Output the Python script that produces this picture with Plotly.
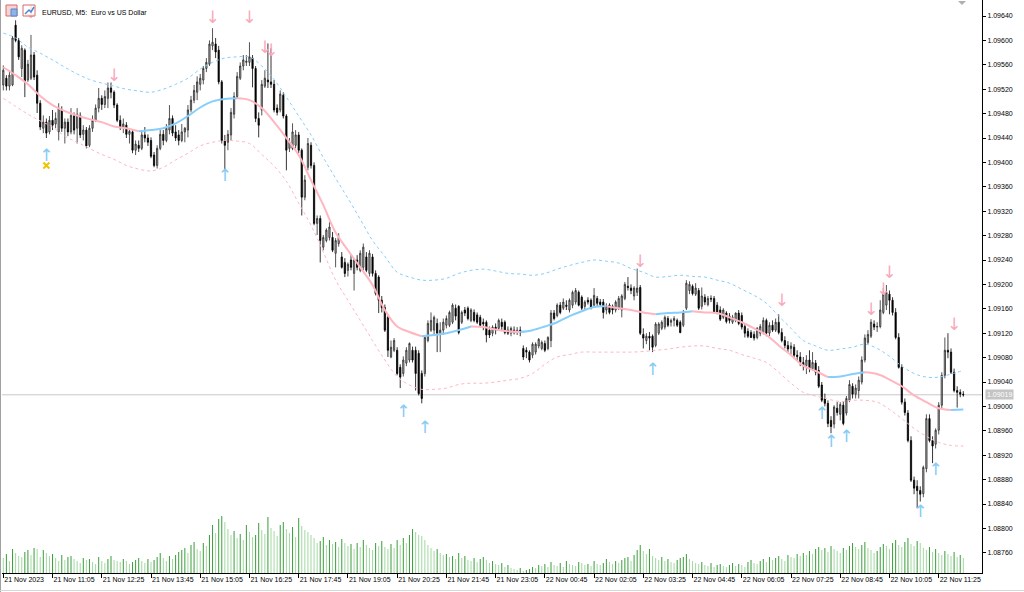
import plotly.graph_objects as go

# EURUSD M5 bars. Prices are stored in points: price = 1 + value / 100000
OPEN = [
    9527, 9538, 9525, 9527, 9625, 9600, 9554, 9584, 9535, 9538,
    9576, 9543, 9497, 9456, 9466, 9450, 9469, 9463, 9450, 9486,
    9456, 9466, 9450, 9476, 9456, 9477, 9446, 9453, 9428, 9456,
    9469, 9489, 9505, 9495, 9505, 9522, 9515, 9494, 9469, 9458,
    9461, 9446, 9450, 9420, 9428, 9423, 9445, 9440, 9436, 9412,
    9395, 9423, 9446, 9436, 9453, 9472, 9450, 9445, 9436, 9450,
    9453, 9486, 9502, 9515, 9528, 9535, 9554, 9561, 9591, 9594,
    9584, 9532, 9436, 9433, 9445, 9479, 9508, 9538, 9558, 9564,
    9564, 9571, 9554, 9472, 9486, 9525, 9535, 9532, 9528, 9489,
    9486, 9510, 9476, 9423, 9423, 9428, 9445, 9420, 9343, 9392,
    9428, 9395, 9300, 9308, 9261, 9272, 9277, 9277, 9251, 9267,
    9245, 9236, 9223, 9240, 9218, 9240, 9223, 9228, 9245, 9218,
    9245, 9218, 9212, 9174, 9162, 9146, 9081, 9092, 9092, 9064,
    9054, 9071, 9076, 9092, 9092, 9087, 9054, 9054, 9108, 9125,
    9125, 9136, 9120, 9125, 9133, 9133, 9138, 9161, 9164, 9138,
    9158, 9161, 9141, 9154, 9150, 9146, 9138, 9138, 9125, 9120,
    9130, 9128, 9138, 9138, 9125, 9120, 9125, 9121, 9125, 9095,
    9092, 9089, 9084, 9089, 9099, 9095, 9103, 9095, 9108, 9153,
    9149, 9166, 9161, 9166, 9158, 9166, 9171, 9187, 9179, 9164,
    9174, 9174, 9166, 9177, 9171, 9171, 9158, 9166, 9164, 9158,
    9161, 9158, 9177, 9197, 9194, 9181, 9187, 9195, 9118, 9108,
    9115, 9115, 9100, 9120, 9128, 9130, 9144, 9138, 9141, 9141,
    9138, 9133, 9161, 9190, 9197, 9184, 9190, 9164, 9179, 9167,
    9177, 9177, 9166, 9158, 9146, 9153, 9148, 9138, 9141, 9153,
    9149, 9131, 9123, 9121, 9118, 9113, 9120, 9121, 9141, 9120,
    9133, 9125, 9138, 9121, 9108, 9100, 9095, 9097, 9084, 9081,
    9072, 9067, 9076, 9062, 9071, 9059, 9035, 9013, 9005, 8977,
    8971, 8997, 8987, 9002, 8989, 9010, 9033, 9020, 9026, 9040,
    9076, 9105, 9115, 9135, 9130, 9131, 9154, 9166, 9184, 9174,
    9154, 9113, 9064, 9007, 8989, 8944, 8879, 8869, 8862, 8857,
    8898, 8980, 8944, 8938, 8961, 9002, 9051, 9092, 9089, 9056,
    9026, 9023, 9020,
]
HIGH = [
    9559, 9543, 9551, 9607, 9633, 9604, 9592, 9587, 9568, 9609,
    9581, 9551, 9502, 9477, 9472, 9476, 9486, 9482, 9497, 9492,
    9472, 9472, 9489, 9482, 9489, 9482, 9461, 9458, 9461, 9477,
    9495, 9522, 9510, 9518, 9531, 9531, 9518, 9497, 9477, 9472,
    9466, 9456, 9453, 9436, 9436, 9453, 9458, 9446, 9441, 9417,
    9428, 9453, 9453, 9463, 9494, 9477, 9461, 9453, 9463, 9458,
    9494, 9509, 9527, 9541, 9545, 9558, 9571, 9600, 9620, 9604,
    9591, 9535, 9445, 9453, 9489, 9515, 9548, 9564, 9576, 9576,
    9597, 9576, 9558, 9482, 9535, 9551, 9595, 9587, 9535, 9495,
    9518, 9515, 9479, 9440, 9464, 9453, 9450, 9423, 9379, 9440,
    9433, 9400, 9313, 9313, 9281, 9292, 9302, 9286, 9276, 9284,
    9253, 9243, 9236, 9248, 9243, 9248, 9256, 9267, 9253, 9256,
    9250, 9223, 9215, 9181, 9167, 9151, 9108, 9112, 9097, 9069,
    9082, 9097, 9105, 9098, 9098, 9092, 9059, 9117, 9141, 9154,
    9149, 9144, 9138, 9144, 9149, 9157, 9169, 9167, 9166, 9157,
    9163, 9164, 9161, 9159, 9154, 9150, 9144, 9141, 9131, 9133,
    9136, 9144, 9144, 9141, 9131, 9131, 9131, 9130, 9131, 9100,
    9097, 9092, 9105, 9105, 9112, 9108, 9108, 9115, 9158, 9158,
    9169, 9171, 9177, 9174, 9177, 9190, 9194, 9190, 9182, 9174,
    9179, 9177, 9194, 9181, 9176, 9176, 9169, 9169, 9167, 9174,
    9181, 9184, 9204, 9212, 9200, 9197, 9226, 9199, 9128, 9120,
    9122, 9118, 9138, 9138, 9141, 9149, 9148, 9144, 9148, 9144,
    9141, 9158, 9207, 9205, 9200, 9202, 9194, 9195, 9184, 9181,
    9182, 9181, 9171, 9164, 9161, 9156, 9153, 9150, 9154, 9158,
    9154, 9135, 9128, 9125, 9123, 9130, 9135, 9146, 9144, 9138,
    9141, 9144, 9151, 9128, 9115, 9107, 9105, 9102, 9092, 9089,
    9081, 9084, 9092, 9089, 9076, 9066, 9040, 9021, 9010, 8984,
    9002, 9007, 9007, 9008, 9017, 9043, 9038, 9036, 9049, 9082,
    9118, 9125, 9143, 9141, 9138, 9174, 9194, 9199, 9190, 9179,
    9161, 9120, 9069, 9013, 8994, 8951, 8885, 8879, 8869, 8903,
    8987, 8987, 8951, 8964, 9007, 9056, 9113, 9120, 9095, 9062,
    9033, 9028, 9025,
]
LOW = [
    9518, 9518, 9518, 9525, 9597, 9568, 9540, 9507, 9532, 9535,
    9535, 9481, 9453, 9448, 9440, 9446, 9453, 9456, 9436, 9450,
    9431, 9443, 9446, 9446, 9431, 9440, 9436, 9423, 9425, 9450,
    9466, 9482, 9486, 9489, 9489, 9505, 9489, 9466, 9453, 9448,
    9440, 9431, 9415, 9412, 9417, 9420, 9433, 9427, 9407, 9392,
    9390, 9420, 9428, 9433, 9446, 9443, 9435, 9428, 9433, 9433,
    9441, 9482, 9497, 9502, 9518, 9528, 9548, 9558, 9584, 9571,
    9528, 9431, 9387, 9420, 9436, 9472, 9505, 9535, 9551, 9558,
    9558, 9523, 9466, 9441, 9477, 9522, 9522, 9522, 9482, 9477,
    9482, 9472, 9387, 9417, 9420, 9423, 9415, 9313, 9338, 9387,
    9390, 9297, 9281, 9236, 9256, 9269, 9272, 9253, 9228, 9262,
    9226, 9212, 9213, 9223, 9190, 9223, 9220, 9223, 9220, 9213,
    9213, 9182, 9153, 9154, 9122, 9081, 9079, 9089, 9051, 9030,
    9049, 9066, 9072, 9072, 9026, 9018, 9005, 9049, 9105, 9122,
    9117, 9089, 9089, 9118, 9128, 9130, 9135, 9141, 9118, 9135,
    9148, 9141, 9138, 9138, 9135, 9130, 9125, 9105, 9112, 9115,
    9118, 9125, 9125, 9118, 9117, 9115, 9118, 9117, 9115, 9076,
    9079, 9072, 9079, 9085, 9095, 9092, 9089, 9092, 9097, 9141,
    9146, 9151, 9158, 9158, 9154, 9161, 9167, 9164, 9158, 9158,
    9167, 9159, 9162, 9164, 9164, 9144, 9151, 9151, 9151, 9154,
    9158, 9146, 9174, 9190, 9184, 9174, 9181, 9117, 9095, 9102,
    9092, 9089, 9097, 9117, 9125, 9126, 9130, 9131, 9131, 9130,
    9120, 9130, 9158, 9184, 9182, 9181, 9158, 9159, 9166, 9164,
    9171, 9153, 9151, 9140, 9143, 9136, 9136, 9135, 9138, 9133,
    9126, 9113, 9112, 9112, 9108, 9110, 9115, 9118, 9115, 9115,
    9122, 9122, 9118, 9105, 9095, 9089, 9085, 9079, 9076, 9066,
    9059, 9053, 9056, 9059, 9051, 9030, 9007, 9000, 8966, 8956,
    8964, 8985, 8977, 8969, 8985, 9007, 9013, 9013, 9013, 9036,
    9072, 9102, 9112, 9125, 9122, 9128, 9151, 9158, 9151, 9149,
    9110, 9062, 9003, 8985, 8941, 8876, 8856, 8833, 8844, 8851,
    8892, 8941, 8907, 8931, 8954, 8997, 9046, 9079, 9053, 9023,
    8998, 9015, 9016,
]
CLOSE = [
    9551, 9525, 9543, 9604, 9600, 9573, 9587, 9532, 9561, 9576,
    9540, 9497, 9458, 9466, 9448, 9469, 9461, 9472, 9489, 9456,
    9466, 9450, 9477, 9453, 9479, 9445, 9453, 9427, 9456, 9469,
    9489, 9505, 9495, 9508, 9522, 9515, 9494, 9469, 9458, 9463,
    9446, 9451, 9420, 9430, 9423, 9445, 9440, 9433, 9410, 9395,
    9423, 9446, 9436, 9456, 9472, 9448, 9440, 9436, 9450, 9456,
    9486, 9502, 9518, 9532, 9538, 9554, 9564, 9594, 9597, 9581,
    9532, 9436, 9428, 9446, 9482, 9508, 9541, 9558, 9568, 9566,
    9573, 9554, 9472, 9461, 9528, 9538, 9532, 9528, 9486, 9482,
    9512, 9476, 9420, 9433, 9450, 9445, 9420, 9343, 9371, 9431,
    9395, 9300, 9308, 9272, 9277, 9289, 9294, 9256, 9272, 9277,
    9228, 9218, 9233, 9228, 9240, 9228, 9251, 9261, 9223, 9251,
    9218, 9185, 9174, 9162, 9125, 9092, 9097, 9108, 9054, 9048,
    9076, 9092, 9103, 9076, 9054, 9021, 9013, 9113, 9136, 9141,
    9146, 9120, 9125, 9138, 9144, 9154, 9166, 9148, 9121, 9154,
    9153, 9144, 9158, 9141, 9138, 9133, 9135, 9117, 9117, 9130,
    9125, 9141, 9131, 9121, 9120, 9128, 9121, 9125, 9121, 9081,
    9089, 9076, 9102, 9102, 9110, 9105, 9092, 9113, 9153, 9144,
    9166, 9154, 9171, 9164, 9174, 9187, 9190, 9166, 9161, 9171,
    9171, 9162, 9182, 9169, 9167, 9154, 9164, 9154, 9158, 9171,
    9177, 9181, 9200, 9195, 9190, 9194, 9194, 9120, 9112, 9115,
    9112, 9097, 9135, 9135, 9138, 9146, 9133, 9141, 9144, 9133,
    9121, 9154, 9202, 9200, 9185, 9194, 9161, 9181, 9171, 9177,
    9176, 9154, 9153, 9143, 9158, 9139, 9141, 9146, 9153, 9136,
    9130, 9120, 9115, 9113, 9112, 9128, 9131, 9141, 9120, 9133,
    9125, 9138, 9121, 9108, 9100, 9094, 9099, 9084, 9082, 9072,
    9067, 9076, 9062, 9072, 9056, 9033, 9010, 9005, 8972, 8967,
    8999, 8990, 9003, 8972, 9013, 9036, 9020, 9030, 9043, 9076,
    9112, 9118, 9138, 9130, 9131, 9158, 9184, 9187, 9174, 9154,
    9113, 9064, 9007, 8990, 8944, 8879, 8866, 8862, 8856, 8900,
    8980, 8944, 8935, 8961, 9002, 9051, 9092, 9089, 9056, 9026,
    9023, 9020, 9019,
]
VOLUME = [
    150, 190, 120, 240, 200, 170, 160, 210, 230, 180, 250, 240, 160, 230, 200, 170,
    190, 150, 120, 180, 130, 160, 170, 140, 120, 100, 150, 130, 140, 110, 90, 160,
    120, 100, 140, 170, 130, 120, 110, 140, 120, 90, 110, 130, 150, 120, 100, 140,
    110, 130, 160, 200, 150, 120, 170, 140, 180, 210, 230, 250, 200, 280, 310, 240,
    220, 300, 270, 380, 480, 400, 540, 570, 510, 440, 380, 420, 350, 390, 330, 480,
    410, 360, 380, 500, 430, 390, 560, 450, 420, 370, 480, 510, 440, 400, 460, 360,
    550, 470, 430, 410, 380, 350, 300, 320, 360, 280, 330, 290, 310, 260, 340, 300,
    270, 290, 240, 300, 260, 330, 280, 250, 230, 300, 270, 320, 260, 240, 290, 250,
    330, 280, 350, 300, 380, 440, 410, 380, 370, 330, 280, 250, 220, 240, 200, 180,
    190, 160, 170, 140, 200, 150, 170, 130, 120, 150, 110, 140, 160, 130, 100, 120,
    90, 80, 100, 60, 80, 50, 40, 30, 50, 20, 30, 40, 60, 50, 80, 70,
    90, 60, 110, 80, 70, 100, 60, 120, 90, 80, 70, 110, 100, 80, 90, 70,
    120, 90, 80, 100, 140, 110, 90, 120, 100, 130, 150, 160, 120, 180, 230, 280,
    220, 190, 240, 170, 150, 130, 160, 120, 140, 110, 100, 130, 150, 160, 190, 140,
    120, 100, 90, 110, 80, 70, 100, 60, 80, 90, 70, 60, 80, 100, 70, 90,
    80, 60, 110, 130, 100, 90, 120, 140, 110, 160, 130, 150, 170, 140, 120, 180,
    160, 150, 190, 170, 200, 180, 220, 190, 240, 260, 230, 250, 210, 270, 240, 220,
    200, 250, 230, 270, 300, 260, 240, 280, 310, 250, 230, 200, 220, 260, 290, 270,
    240, 300, 330, 280, 260, 310, 350, 290, 270, 320, 300, 250, 230, 260, 210, 240,
    200, 180, 220, 190, 170, 210, 160, 180, 150,
]

# Envelope indicator read every 4th bar (bar index, then points)
BAND_BARS = list(range(0, 313, 4))
CENTER = [
    9556, 9543, 9528, 9509, 9494, 9484, 9477, 9471, 9466, 9459,
    9456, 9451, 9453, 9456, 9464, 9476, 9490, 9500, 9504, 9505,
    9502, 9489, 9466, 9440, 9412, 9371, 9330, 9285, 9256, 9228,
    9199, 9158, 9131, 9122, 9115, 9117, 9120, 9125, 9131, 9130,
    9126, 9123, 9122, 9125, 9131, 9138, 9148, 9156, 9163, 9164,
    9161, 9158, 9154, 9151, 9153, 9154, 9156, 9154, 9153, 9146,
    9138, 9128, 9117, 9100, 9084, 9067, 9058, 9048, 9049, 9053,
    9056, 9053, 9044, 9033, 9018, 9007, 8997, 8994, 8995,
]
UPPER = [
    9612, 9604, 9589, 9579, 9568, 9556, 9545, 9536, 9530, 9525,
    9520, 9517, 9515, 9520, 9528, 9538, 9553, 9564, 9571, 9573,
    9573, 9558, 9536, 9507, 9476, 9445, 9408, 9374, 9341, 9307,
    9272, 9246, 9220, 9212, 9207, 9207, 9210, 9218, 9223, 9225,
    9222, 9218, 9217, 9215, 9218, 9225, 9231, 9236, 9240, 9238,
    9235, 9226, 9220, 9212, 9213, 9215, 9213, 9212, 9207, 9202,
    9192, 9182, 9169, 9148, 9128, 9108, 9099, 9092, 9094, 9097,
    9102, 9095, 9082, 9066, 9054, 9048, 9048, 9053, 9059,
]
LOWER = [
    9505, 9492, 9479, 9468, 9458, 9443, 9433, 9423, 9413, 9405,
    9395, 9389, 9386, 9392, 9404, 9415, 9427, 9433, 9436, 9435,
    9431, 9413, 9394, 9369, 9333, 9297, 9253, 9207, 9174, 9141,
    9108, 9076, 9049, 9035, 9028, 9028, 9030, 9036, 9038, 9038,
    9040, 9043, 9046, 9054, 9069, 9081, 9085, 9089, 9089, 9089,
    9089, 9089, 9090, 9092, 9094, 9097, 9099, 9099, 9095, 9092,
    9085, 9079, 9072, 9056, 9038, 9023, 9017, 9012, 9008, 9010,
    9010, 9007, 8995, 8980, 8964, 8951, 8941, 8936, 8935,
]

DOWN_BARS = [9, 36, 68, 80, 85, 87, 207, 253, 282, 286, 288, 309]
DOWN_PRICES = [9643, 9541, 9635, 9635, 9587, 9581, 9235, 9172, 9156, 9189, 9217, 9133]
UP_BARS = [14, 72, 130, 137, 211, 266, 269, 274, 298, 303]
UP_PRICES = [9410, 9376, 8990, 8964, 9059, 8987, 8941, 8949, 8826, 8895]
STAR_BAR = [14]
STAR_PRICE = [9395]

TICK_BARS = [0, 16, 32, 48, 64, 80, 96, 112, 128, 144, 160, 176, 192, 208, 224, 240, 256, 272, 288, 304]
TICK_LABELS = ["21 Nov 2023", "21 Nov 11:05", "21 Nov 12:25", "21 Nov 13:45", "21 Nov 15:05",
               "21 Nov 16:25", "21 Nov 17:45", "21 Nov 19:05", "21 Nov 20:25", "21 Nov 21:45",
               "21 Nov 23:05", "22 Nov 00:45", "22 Nov 02:05", "22 Nov 03:25", "22 Nov 04:45",
               "22 Nov 06:05", "22 Nov 07:25", "22 Nov 08:45", "22 Nov 10:05", "22 Nov 11:25"]
PRICE_LABELS = ["1.09640", "1.09600", "1.09560", "1.09520", "1.09480", "1.09440", "1.09400",
                "1.09360", "1.09320", "1.09280", "1.09240", "1.09200", "1.09160", "1.09120",
                "1.09080", "1.09040", "1.09000", "1.08960", "1.08920", "1.08880", "1.08840",
                "1.08800", "1.08760"]
LAST_PRICE = "1.09019"

N = len(CLOSE)
lens = [len(a) for a in (OPEN, HIGH, LOW, CLOSE, VOLUME)]
if len(set(lens)) != 1 or len(CENTER) != len(BAND_BARS) or len(UPPER) != len(BAND_BARS) or len(LOWER) != len(BAND_BARS):
    raise SystemExit(f"length mismatch {lens} {len(BAND_BARS)} {len(CENTER)} {len(UPPER)} {len(LOWER)}")


def pr(v):
    return 1.0 + v / 100000.0


PINK = "#FFB6C1"
BLUE = "#87CEFA"
FONT = "Liberation Sans"
bars = list(range(N))

fig = go.Figure()

# volumes
vol_colors = ["#3C9E3C" if (i > 0 and VOLUME[i] > VOLUME[i - 1]) else "#A3D8A3" for i in range(N)]
fig.add_trace(go.Bar(x=bars, y=VOLUME, yaxis="y2", width=0.33,
                     marker=dict(color=vol_colors, line=dict(width=0)), hoverinfo="skip"))

# candles
fig.add_trace(go.Candlestick(
    x=bars, open=[pr(v) for v in OPEN], high=[pr(v) for v in HIGH],
    low=[pr(v) for v in LOW], close=[pr(v) for v in CLOSE],
    increasing=dict(line=dict(color="#2a2a2a", width=0.8), fillcolor="#B8B8B8"),
    decreasing=dict(line=dict(color="#000000", width=0.8), fillcolor="#000000"),
    whiskerwidth=0, hoverinfo="skip"))

# bands
fig.add_trace(go.Scatter(x=BAND_BARS, y=[pr(v) for v in UPPER], mode="lines",
                         line=dict(color=BLUE, width=1, dash="dot", shape="spline"), hoverinfo="skip"))
fig.add_trace(go.Scatter(x=BAND_BARS, y=[pr(v) for v in LOWER], mode="lines",
                         line=dict(color=PINK, width=1, dash="dot", shape="spline"), hoverinfo="skip"))

# centre line coloured by direction
segs = []
start = 0
for k in range(1, len(CENTER)):
    d_prev = CENTER[k] - CENTER[k - 1]
    if k + 1 < len(CENTER):
        d_next = CENTER[k + 1] - CENTER[k]
        if (d_prev >= 0) != (d_next >= 0):
            segs.append((start, k, d_prev >= 0))
            start = k
segs.append((start, len(CENTER) - 1, CENTER[-1] - CENTER[-2] >= 0))
for a, b, up in segs:
    fig.add_trace(go.Scatter(x=BAND_BARS[a:b + 1], y=[pr(v) for v in CENTER[a:b + 1]], mode="lines",
                             line=dict(color=BLUE if up else PINK, width=2, shape="spline"),
                             hoverinfo="skip"))

# arrows
fig.add_trace(go.Scatter(x=DOWN_BARS, y=[pr(v) for v in DOWN_PRICES], mode="text",
                         text=["↓"] * len(DOWN_BARS), textposition="middle center",
                         textfont=dict(size=17, color="#F9A8BC", family="DejaVu Sans"), hoverinfo="skip"))
fig.add_trace(go.Scatter(x=UP_BARS, y=[pr(v) for v in UP_PRICES], mode="text",
                         text=["↑"] * len(UP_BARS), textposition="middle center",
                         textfont=dict(size=17, color="#86CBF5", family="DejaVu Sans"), hoverinfo="skip"))
fig.add_trace(go.Scatter(x=STAR_BAR, y=[pr(v) for v in STAR_PRICE], mode="markers",
                         marker=dict(symbol="x-thin", size=6, line=dict(width=2, color="#F2C200")),
                         hoverinfo="skip"))

W, H = 1024, 592
L, R, T, B = 2, 42, 0, 19
PW, PH = W - L - R, H - T - B
px_per_bar = 3.077
x0 = -(3.3 - L) / px_per_bar
x1 = x0 + PW / px_per_bar
y_top = 1.09640 + 16 / 61000.0
y_bot = 1.09640 - (PH - 16) / 61000.0


def xp(px):
    return (px - L) / PW


def yp(py):
    return 1 - (py - T) / PH


shapes = [
    dict(type="line", xref="paper", yref="y", x0=0, x1=1, y0=float(LAST_PRICE), y1=float(LAST_PRICE),
         line=dict(color="#C8C8C8", width=1), layer="below"),
    dict(type="line", xref="paper", yref="paper", x0=xp(0.5), x1=xp(0.5), y0=yp(0), y1=yp(592),
         line=dict(color="#A0A0A0", width=1)),
    dict(type="line", xref="paper", yref="paper", x0=xp(0), x1=xp(1024), y0=yp(590.5), y1=yp(590.5),
         line=dict(color="#D8D8D8", width=1)),
    dict(type="path", xref="paper", yref="paper",
         path=f"M {xp(958)} {yp(1)} L {xp(966)} {yp(1)} L {xp(962)} {yp(5)} Z",
         fillcolor="#B0B0B0", line=dict(width=0)),
    # toolbar icons
    dict(type="rect", xref="paper", yref="paper", x0=xp(6), x1=xp(17), y0=yp(16), y1=yp(5),
         fillcolor="#F6D4D4", line=dict(color="#D86A6A", width=1)),
    dict(type="rect", xref="paper", yref="paper", x0=xp(11), x1=xp(17), y0=yp(16), y1=yp(9),
         fillcolor="#8FB3E6", line=dict(color="#5B86C9", width=1)),
    dict(type="rect", xref="paper", yref="paper", x0=xp(23), x1=xp(35), y0=yp(16), y1=yp(5),
         fillcolor="rgba(255,255,255,0.6)", line=dict(color="#D86A6A", width=1)),
    dict(type="path", xref="paper", yref="paper",
         path=f"M {xp(25)} {yp(14)} L {xp(29)} {yp(10)} L {xp(31)} {yp(12)} L {xp(34)} {yp(7)}",
         line=dict(color="#4F86D0", width=1.5)),
]

fig.update_layout(
    width=W, height=H, margin=dict(l=L, r=R, t=T, b=B),
    paper_bgcolor="white", plot_bgcolor="white", showlegend=False,
    boxgap=0.42,
    shapes=shapes,
    xaxis=dict(range=[x0, x1], tickmode="array", tickvals=TICK_BARS, ticktext=TICK_LABELS,
               ticks="outside", ticklen=4, tickcolor="#000", tickwidth=1, tickangle=0,
               showline=True, linecolor="#000", linewidth=1, showgrid=False, zeroline=False,
               ticklabelposition="outside right", rangeslider=dict(visible=False),
               tickfont=dict(family=FONT, size=7, color="#000")),
    yaxis=dict(range=[y_bot, y_top], side="right", tickmode="array",
               tickvals=[float(s) for s in PRICE_LABELS], ticktext=PRICE_LABELS,
               ticks="outside", ticklen=3, tickcolor="#000", showline=True, linecolor="#000",
               linewidth=1, showgrid=False, zeroline=False,
               tickfont=dict(family=FONT, size=7, color="#000")),
    yaxis2=dict(range=[0, 5730], overlaying="y", visible=False, showgrid=False, zeroline=False),
    annotations=[
        dict(xref="paper", yref="paper", x=xp(40), y=yp(12), xanchor="left", yanchor="middle",
             text="EURUSD, M5:\u00a0\u00a0Euro vs US Dollar", showarrow=False,
             font=dict(family=FONT, size=7, color="#000")),
        dict(xref="paper", yref="y", x=1, y=float(LAST_PRICE), xanchor="left", yanchor="middle",
             xshift=3, text=LAST_PRICE, showarrow=False, bgcolor="#C4C4C4", borderpad=1,
             font=dict(family=FONT, size=7, color="#FFFFFF")),
    ],
)

fig.write_html("out.html", config={"displayModeBar": False, "staticPlot": True})

# remove the browser's default page margin so the figure sits at the window origin
with open("out.html", "r", encoding="utf-8") as fh:
    page = fh.read()
page = page.replace("<head>", "<head><style>html,body{margin:0;padding:0;overflow:hidden;}</style>", 1)
with open("out.html", "w", encoding="utf-8") as fh:
    fh.write(page)
